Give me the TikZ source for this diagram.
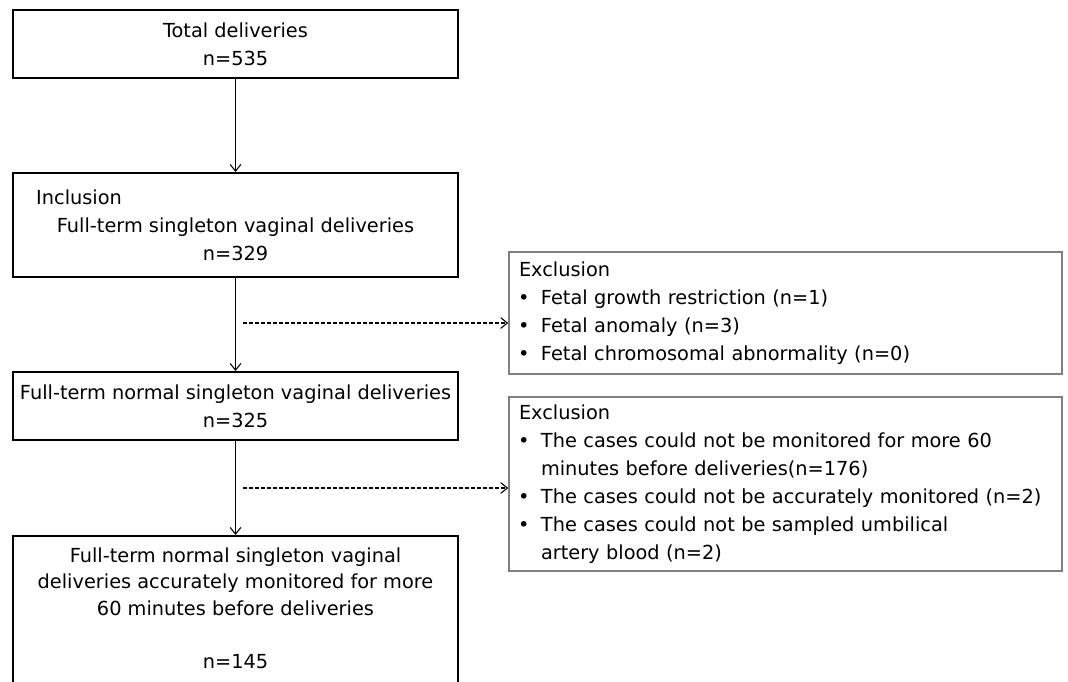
\documentclass[tikz,border=0pt]{standalone}
\usepackage{fontspec}
\setmainfont{DejaVu Sans}
\usetikzlibrary{arrows.meta}

\newcommand{\xbul}{\makebox[16.5pt][l]{\hspace{-0.75pt}\textbullet}}
\newcommand{\xind}{\hspace*{16.5pt}}

\begin{document}
\begin{tikzpicture}[x=0.75pt, y=-0.75pt,
  flowbox/.style={draw=black, line width=1.5pt, minimum width=333.75pt,
    align=center, inner sep=0pt, font=\fontsize{14.5}{21}\selectfont},
  exclbox/.style={draw=black!50, line width=1.1pt, text width=399.75pt,
    align=left, inner xsep=7.5pt, font=\fontsize{14.5}{21}\selectfont},
  flow/.style={line width=0.8pt, -{Straight Barb[length=5pt,width=8pt]}},
  skip/.style={flow, dash pattern=on 3pt off 1.5pt}
]
\useasboundingbox (0,0) rectangle (1068,682);
\clip (0,0) rectangle (1068,682);

\node[flowbox, minimum height=51pt] (total) at (235.5,44)
  {Total deliveries\\n=535};
\node[flowbox, minimum height=78pt] (incl) at (235.5,225)
  {\makebox[299pt][l]{Inclusion}\\Full-term singleton vaginal deliveries\\n=329};
\node[flowbox, minimum height=51pt] (normal) at (235.5,406)
  {Full-term normal singleton vaginal deliveries\\n=325};
\node[flowbox, anchor=north, minimum height=127.5pt,
  font=\fontsize{14.5}{19.9}\selectfont] (final) at (235.5,535)
  {Full-term normal singleton vaginal\\deliveries accurately monitored for more\\60 minutes before deliveries\\[19.9pt]n=145\\\mbox{}};

\node[exclbox, minimum height=91.5pt] (excl1) at (785.5,313)
  {Exclusion\\
   \xbul Fetal growth restriction (n=1)\\
   \xbul Fetal anomaly (n=3)\\
   \xbul Fetal chromosomal abnormality (n=0)};
\node[exclbox, minimum height=130.5pt] (excl2) at (785.5,484)
  {Exclusion\\
   \xbul The cases could not be monitored for more 60\\
   \xind minutes before deliveries(n=176)\\
   \xbul The cases could not be accurately monitored (n=2)\\
   \xbul The cases could not be sampled umbilical\\
   \xind artery blood (n=2)};

\draw[flow] (total) -- (incl);
\draw[flow] (incl) -- (normal);
\draw[flow] (normal) -- (final);

\coordinate (split1) at (243,323);
\coordinate (split2) at (243,488);
\draw[skip] (split1) -- (split1 -| excl1.west);
\draw[skip] (split2) -- (split2 -| excl2.west);
\end{tikzpicture}
\end{document}
